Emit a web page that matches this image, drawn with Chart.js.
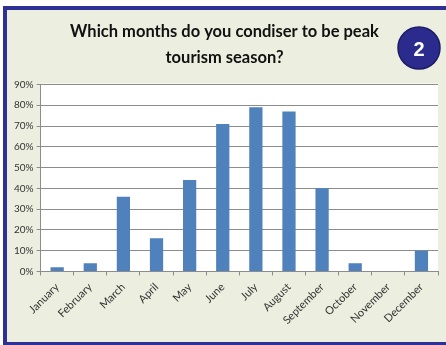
<!DOCTYPE html>
<html>
<head>
<meta charset="utf-8">
<script src="https://cdn.jsdelivr.net/npm/chart.js@4.4.0/dist/chart.umd.min.js"></script>
<style>
	html, body { margin: 0; padding: 0; background: #fff; }
	#wrap { position: relative; width: 446px; height: 345px; }
</style>
</head>
<body>
<div id="wrap"><canvas id="peakSeason" width="446" height="345"></canvas></div>
<script>
//월별 응답 비율(%)
var months = ['January','February','March','April','May','June','July','August','September','October','November','December'];
var peakRate = [2, 4, 36, 16, 44, 71, 79, 77, 40, 4, 0, 10];
var titleLines = ['Which months do you condiser to be peak', 'tourism season?'];
var badgeText = '2';

//배경, 테두리, 흰색 플롯 영역
var framePlugin = {
	id: 'frame',
	beforeDraw: function(chart){
		var c = chart.ctx;
		var a = chart.chartArea;
		c.save();
		c.fillStyle = '#ffffff';
		c.fillRect(0, 0, chart.width, chart.height);
		c.fillStyle = '#2e3094';
		c.fillRect(3, 6, chart.width - 3, 339);
		c.fillStyle = '#ecefe0';
		c.fillRect(7, 10, chart.width - 7, 332);
		c.fillStyle = '#ffffff';
		c.fillRect(a.left, a.top - 1, a.right - a.left, a.bottom - a.top + 1);
		c.restore();
	},
	//오른쪽 위 번호 동그라미
	afterDraw: function(chart){
		var c = chart.ctx;
		c.save();
		c.beginPath();
		c.arc(419, 48, 21, 0, Math.PI * 2);
		c.fillStyle = '#2b2b8e';
		c.fill();
		c.lineWidth = 1.5;
		c.strokeStyle = '#1c1c66';
		c.stroke();
		c.fillStyle = '#ffffff';
		c.font = 'bold 20px "Liberation Sans", Arial';
		c.textAlign = 'center';
		c.textBaseline = 'middle';
		c.fillText(badgeText, 419, 50);
		c.restore();
	}
};

var ctx = document.getElementById('peakSeason');
var chart = new Chart(ctx, {
	type: 'bar',
	data: {
		labels: months,
		datasets: [{
			data: peakRate,
			backgroundColor: '#4f81bd',
			barPercentage: 0.8,
			categoryPercentage: 0.5
		}]
	},
	options: {
		responsive: false,
		animation: false,
		layout: { padding: { left: 11, right: 8, top: 0, bottom: 13 } },
		plugins: {
			legend: { display: false },
			tooltip: { enabled: false },
			title: {
				display: true,
				text: titleLines,
				color: '#111111',
				font: { family: 'Lato', size: 16.5, weight: 'bold', lineHeight: 1.62 },
				padding: { top: 18, bottom: 13 }
			}
		},
		scales: {
			x: {
				grid: { drawOnChartArea: false, color: '#8c8c8c', tickLength: 4 },
				border: { color: '#8c8c8c' },
				ticks: { color: '#333333', font: { family: 'Lato', size: 11 }, minRotation: 45, maxRotation: 45, padding: 5 }
			},
			y: {
				min: 0,
				max: 90,
				grid: { color: '#8c8c8c', tickLength: 4 },
				border: { color: '#8c8c8c' },
				ticks: {
					stepSize: 10,
					color: '#333333',
					padding: 3,
					font: { family: 'Lato', size: 10 },
					callback: function(v){ return v + '%'; }
				}
			}
		}
	},
	plugins: [framePlugin]
});
</script>
</body>
</html>
